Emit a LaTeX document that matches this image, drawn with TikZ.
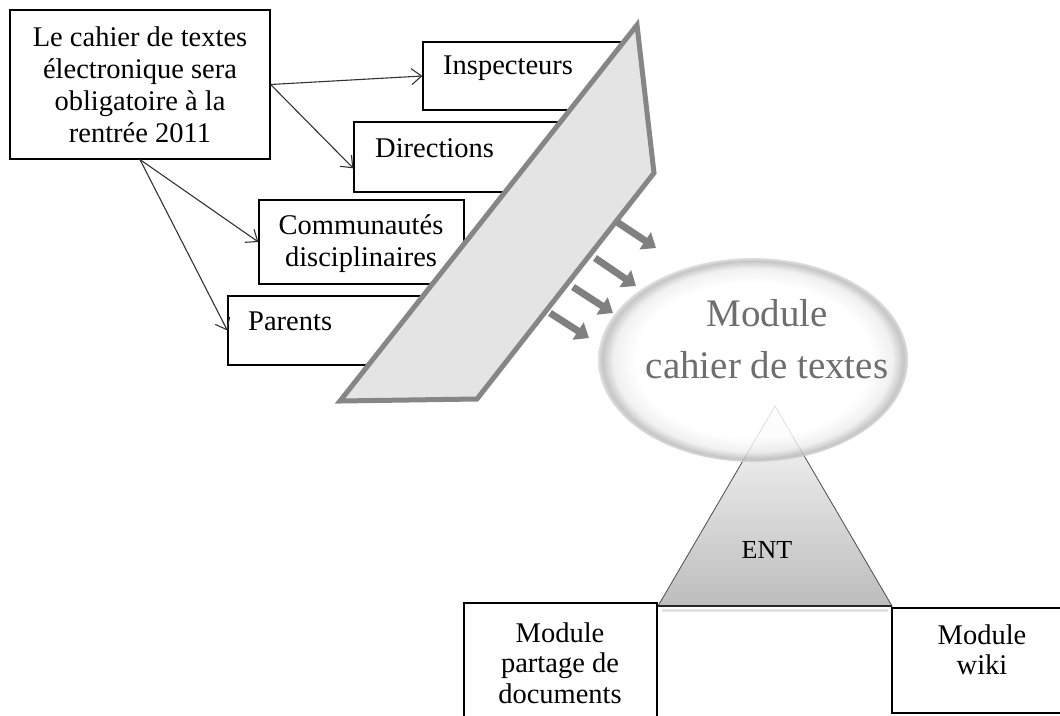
\documentclass[tikz,border=0pt]{standalone}
\usepackage{fontspec}
\setmainfont{Liberation Serif}
\usetikzlibrary{arrows.meta,calc,shapes.geometric}
\pgfdeclareradialshading{ellbevel}{\pgfpoint{0bp}{0bp}}{color(0bp)=(white); color(19bp)=(white); color(22.5bp)=(gray!14); color(24.3bp)=(gray!55); color(25bp)=(gray!30); color(50bp)=(gray!30)}
\begin{document}
\begin{tikzpicture}[x=1pt,y=-1pt,
  box/.style={draw=black, line width=1.2pt, fill=white, inner sep=0pt},
  txt/.style={font=\fontsize{28.5}{32}\selectfont, align=center, inner sep=0pt},
  conn/.style={draw=black!80, line width=1.1pt, -{Straight Barb[length=10pt,width=16pt]}},
  fat/.style={draw=gray, line width=7pt, -{Triangle[length=13pt,width=20pt]}},
  slopebar/.style={fill=gray!21, draw=gray!95, line width=5pt, line join=miter},
]
\useasboundingbox (0,0) rectangle (1060,715);
\clip (0,0) rectangle (1060,715);

% top-left boxes
\node[box, txt, minimum width=260pt, minimum height=149pt] (main) at (140,84.5)
  {Le cahier de textes\\électronique sera\\obligatoire à la\\rentrée 2011};
\node[box, minimum width=212pt, minimum height=68pt] (insp) at (529,76) {};
\node[txt, anchor=west] (inspT) at (443,68) {Inspecteurs};
\node[box, minimum width=266pt, minimum height=70pt] (dir) at (487,157) {};
\node[txt, anchor=west] (dirT) at (375,148) {Directions};
\node[box, minimum width=205pt, minimum height=84pt] (comm) at (361.5,242) {};
\node[txt] (commT) at (361,244) {Communautés\\disciplinaires};
\node[box, minimum width=222pt, minimum height=69pt] (par) at (339,330.5) {};
\node[txt, anchor=west] (parT) at (248,321) {Parents};

% connectors
\draw[conn] (main.east) -- (insp.west);
\draw[conn] (main.east) -- ($(dir.north west)!0.66!(dir.south west)$);
\draw[conn] (main.south) -- (comm.west);
\draw[conn] (main.south) -- (par.west);

% slanted bar
\draw[slopebar] (637,25) -- (654,173) -- (477,399) -- (340,401) -- cycle;

% fat arrows
\coordinate (f1s) at (617,222); \coordinate (f1e) at (656,248);
\coordinate (f2s) at (595,258); \coordinate (f2e) at (636,286);
\coordinate (f3s) at (573,287); \coordinate (f3e) at (613,313);
\coordinate (f4s) at (550,313); \coordinate (f4e) at (589,338);
\draw[fat] (f1s) -- (f1e);
\draw[fat] (f2s) -- (f2e);
\draw[fat] (f3s) -- (f3e);
\draw[fat] (f4s) -- (f4e);

% triangle ENT
\shade[top color=gray!4, bottom color=gray!52, draw=black!70, line width=0.8pt]
  (775,406) -- (892,606) -- (658,606) -- cycle;
\draw[gray!22, line width=3pt] (662,610) -- (888,610);
\draw[black!85, line width=2pt] (658,606) -- (892,606);
\node[inner sep=0pt, font=\fontsize{26}{30}\selectfont] (ent) at (767,550) {ENT};

% ellipse
\node[ellipse, minimum width=310pt, minimum height=204pt, shading=ellbevel,
      fill opacity=0.82, inner sep=0pt] (cdt) at (753,360) {};
\node[inner sep=0pt, font=\fontsize{39}{52}\selectfont, text=black!57, align=center]
  (cdtT) at (767,339) {Module\\cahier de textes};

% bottom boxes
\node[box, minimum width=193pt, minimum height=127pt] (lbox) at (560.5,666.5) {};
\node[txt, font=\fontsize{28.5}{30.5}\selectfont] (lboxT) at (560,663) {Module\\partage de\\documents};
\node[box, minimum width=183pt, minimum height=105pt] (rbox) at (983.5,660.5) {};
\node[txt, font=\fontsize{28.5}{30}\selectfont] (rboxT) at (982,650) {Module\\wiki};
\end{tikzpicture}
\end{document}
